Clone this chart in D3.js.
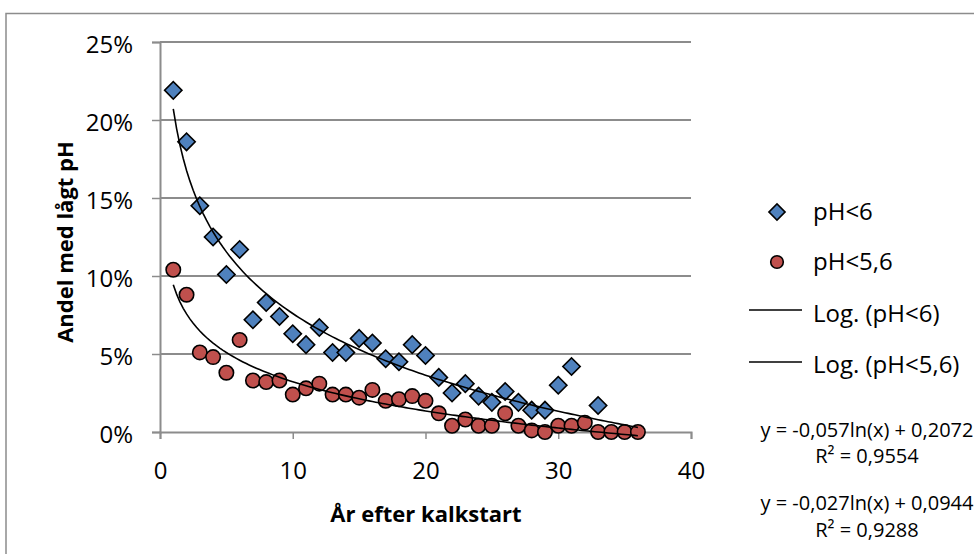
<!DOCTYPE html>
<html><head><meta charset="utf-8">
<script src="https://cdn.jsdelivr.net/npm/d3@7"></script>
<style>
html,body{margin:0;padding:0;background:#fff;}
svg{display:block;font-family:"Open Sans",Lato,sans-serif;}
</style></head>
<body><svg id="c" width="974" height="554"></svg>
<script>
// Data
const seriesNames = ["pH<6", "pH<5,6"];
const trendNames = ["Log. (pH<6)", "Log. (pH<5,6)"];
const xBlue = [1,2,3,4,5,6,7,8,9,10,11,12,13,14,15,16,17,18,19,20,21,22,23,24,25,26,27,28,29,30,31,33];
const yBlue = [0.219,0.186,0.145,0.125,0.101,0.117,0.072,0.083,0.074,0.063,0.056,0.067,0.051,0.051,0.060,0.057,0.047,0.045,0.056,0.049,0.035,0.025,0.031,0.023,0.019,0.026,0.019,0.014,0.014,0.030,0.042,0.017];
const xRed = [1,2,3,4,5,6,7,8,9,10,11,12,13,14,15,16,17,18,19,20,21,22,23,24,25,26,27,28,29,30,31,32,33,34,35,36];
const yRed = [0.104,0.088,0.051,0.048,0.038,0.059,0.033,0.032,0.033,0.024,0.028,0.031,0.024,0.024,0.022,0.027,0.020,0.021,0.023,0.020,0.012,0.004,0.008,0.004,0.004,0.012,0.004,0.001,0.000,0.004,0.004,0.006,0.000,0.000,0.000,0.000];
const trendSlope = [-0.057, -0.027];
const trendIntercept = [0.2072, 0.0944];
const trendRange = [1, 36];
const eqTexts = ["y = -0,057ln(x) + 0,2072", "y = -0,027ln(x) + 0,0944"];
const r2Texts = ["R² = 0,9554", "R² = 0,9288"];
const xTicks = [0,10,20,30,40];
const yTicks = [0,0.05,0.10,0.15,0.20,0.25];
const colors = ["#4F81BD", "#C0504D"];

const svg = d3.select("#c");
const x = d3.scaleLinear().domain([0,40]).range([160,691]);
const y = d3.scaleLinear().domain([0,0.25]).range([432,42]);

// outer frame
svg.append("rect").attr("x",6).attr("y",13.5).attr("width",1000).attr("height",600)
  .attr("fill","none").attr("stroke","#8c8c8c").attr("stroke-width",1.5);

// gridlines
svg.append("g").selectAll("line").data(yTicks.filter(d=>d>0)).join("line")
  .attr("x1",x(0)).attr("x2",x(40)).attr("y1",d=>y(d)).attr("y2",d=>y(d))
  .attr("stroke","#8c8c8c").attr("stroke-width",2);

// axes
const yAxis = d3.axisLeft(y).tickValues(yTicks).tickSize(8).tickPadding(19)
  .tickFormat(d=>Math.round(d*100)+"%");
const gy = svg.append("g").attr("transform",`translate(${x(0)},0)`).call(yAxis);
const xAxis = d3.axisBottom(x).tickValues(xTicks).tickSize(7).tickPadding(23);
const gx = svg.append("g").attr("transform",`translate(0,${y(0)})`).call(xAxis);
[gx,gy].forEach(g=>{
  g.select(".domain").attr("stroke","#8c8c8c").attr("stroke-width",2);
  g.selectAll(".tick line").attr("stroke","#8c8c8c").attr("stroke-width",1.5);
  g.selectAll(".tick text").attr("font-size",24).attr("fill","#000")
   .attr("font-family","'Open Sans',Lato,sans-serif");
});
gy.selectAll(".tick text").attr("dy","0.42em");

// markers
svg.append("g").selectAll("path").data(xBlue.map((v,i)=>[v,yBlue[i]])).join("path")
  .attr("d", d3.symbol().type(d3.symbolSquare).size(150))
  .attr("transform",d=>`translate(${x(d[0])},${y(d[1])}) rotate(45)`)
  .attr("fill",colors[0]).attr("stroke","#000").attr("stroke-width",1.6);
svg.append("g").selectAll("circle").data(xRed.map((v,i)=>[v,yRed[i]])).join("circle")
  .attr("cx",d=>x(d[0])).attr("cy",d=>y(d[1])).attr("r",7.2)
  .attr("fill",colors[1]).attr("stroke","#000").attr("stroke-width",1.6);

// trend lines
const line = d3.line().x(d=>x(d[0])).y(d=>y(d[1]));
[0,1].forEach(k=>{
  const pts = d3.range(trendRange[0], trendRange[1]+0.001, 0.25)
    .map(t=>[t, trendSlope[k]*Math.log(t)+trendIntercept[k]]);
  svg.append("path").attr("d",line(pts)).attr("fill","none")
    .attr("stroke","#000").attr("stroke-width",1.6);
});

// axis titles
svg.append("text").attr("x",426).attr("y",522).attr("text-anchor","middle")
  .attr("font-size",22).attr("font-weight","bold").text("År efter kalkstart");
svg.append("text").attr("transform","translate(73,242) rotate(-90)").attr("text-anchor","middle")
  .attr("font-size",22).attr("font-weight","bold").text("Andel med lågt pH");

// legend
const lg = svg.append("g");
lg.append("path").attr("d",d3.symbol().type(d3.symbolSquare).size(130))
  .attr("transform","translate(777,212) rotate(45)")
  .attr("fill",colors[0]).attr("stroke","#000").attr("stroke-width",1.6);
lg.append("circle").attr("cx",777).attr("cy",262).attr("r",6.3)
  .attr("fill",colors[1]).attr("stroke","#000").attr("stroke-width",1.6);
[310,362].forEach(yy=>lg.append("line").attr("x1",749).attr("x2",802).attr("y1",yy).attr("y2",yy)
  .attr("stroke","#000").attr("stroke-width",1.6));
const labels = [...seriesNames, ...trendNames];
[220,270,322,373].forEach((yy,i)=>lg.append("text").attr("x",813).attr("y",yy)
  .attr("font-size",24).text(labels[i]));

// equations
[[437,463],[510,537]].forEach((p,i)=>{
  svg.append("text").attr("x",867).attr("y",p[0]).attr("text-anchor","middle")
    .attr("font-size",20).text(eqTexts[i]);
  svg.append("text").attr("x",867).attr("y",p[1]).attr("text-anchor","middle")
    .attr("font-size",20).text(r2Texts[i]);
});
</script></body></html>
